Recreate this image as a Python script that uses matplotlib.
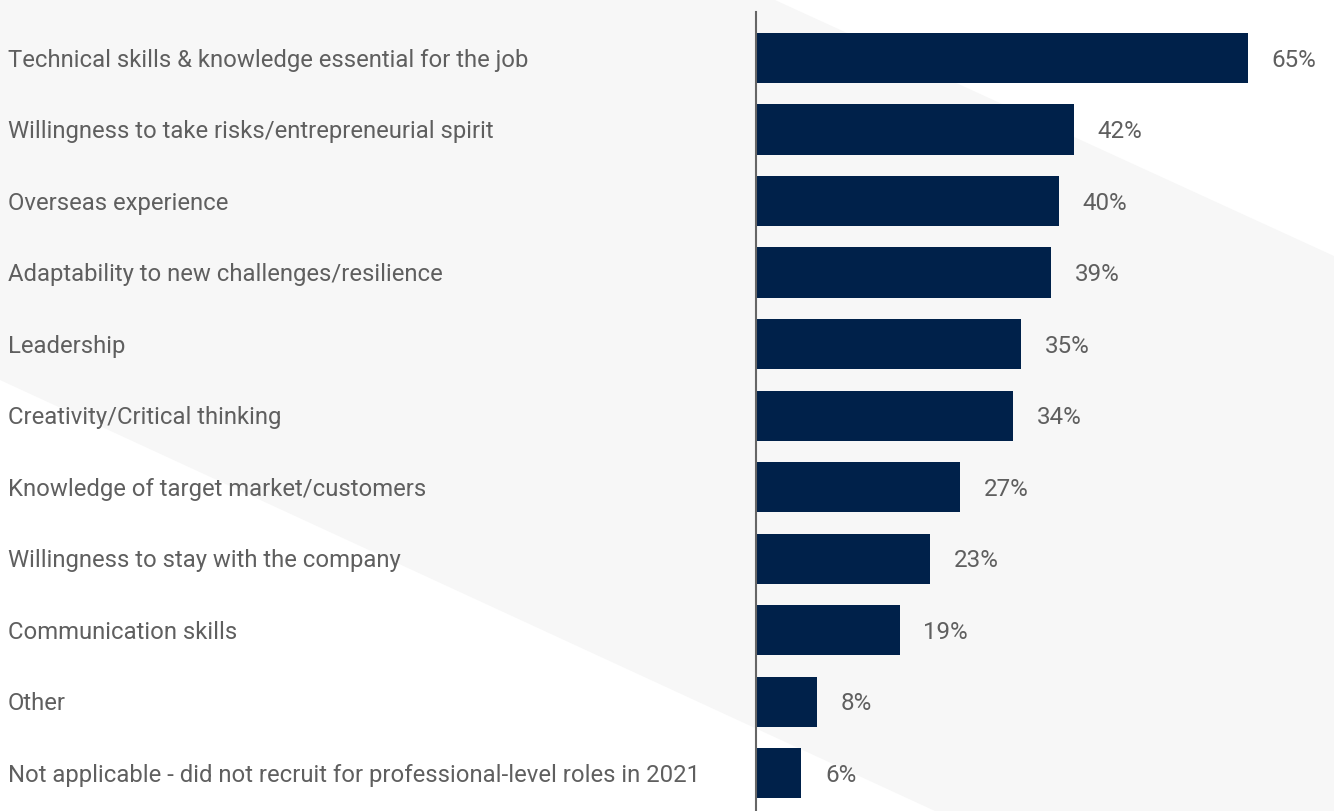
import matplotlib.pyplot as plt
from matplotlib.patches import Polygon
from matplotlib.transforms import blended_transform_factory, offset_copy

plt.rcParams['font.family'] = ['Roboto', 'DejaVu Sans']

categories = [
    "Technical skills & knowledge essential for the job",
    "Willingness to take risks/entrepreneurial spirit",
    "Overseas experience",
    "Adaptability to new challenges/resilience",
    "Leadership",
    "Creativity/Critical thinking",
    "Knowledge of target market/customers",
    "Willingness to stay with the company",
    "Communication skills",
    "Other",
    "Not applicable - did not recruit for professional-level roles in 2021",
]
values = [65, 42, 40, 39, 35, 34, 27, 23, 19, 8, 6]

BAR_COLOR = "#00214a"
TEXT_COLOR = "#5f5f5f"
W, H = 1334, 811

fig = plt.figure(figsize=(W / 100, H / 100), dpi=100)
fig.patch.set_facecolor("white")

# light grey band running diagonally behind the chart
band_px = [(0, 0), (775, 0), (1334, 256), (1334, 811), (935, 811), (0, 380)]
band = Polygon([(x / W, 1 - y / H) for x, y in band_px], closed=True,
               transform=fig.transFigure, facecolor="#f7f7f7",
               edgecolor="none", zorder=-1)
fig.patches.append(band)

ax = fig.add_axes([756 / W, 0, 1 - 756 / W, 1 - 12 / H])
ax.patch.set_alpha(0)

pos = list(range(len(categories)))
ax.barh(pos, values, height=0.7, color=BAR_COLOR, zorder=2)

ax.set_xlim(0, (W - 756) / 7.57)
ax.set_ylim(10.53, -0.643)

for i, v in zip(pos, values):
    ax.annotate(f"{v}%", (v, i), xytext=(17, -1.5), textcoords="offset points",
                va="center", ha="left", fontsize=17.4, color=TEXT_COLOR)

# category names sit at the left edge of the figure, aligned to bar rows
label_tr = offset_copy(blended_transform_factory(fig.transFigure, ax.transData),
                       fig=fig, x=0, y=-1.5, units="points")
for i, name in zip(pos, categories):
    ax.text(8 / W, i, name, transform=label_tr, va="center", ha="left",
            fontsize=17.2, color=TEXT_COLOR, clip_on=False)

for side in ["top", "right", "bottom"]:
    ax.spines[side].set_visible(False)
ax.spines["left"].set_color("#666666")
ax.spines["left"].set_linewidth(1.5)
ax.set_xticks([])
ax.set_yticks([])

fig.savefig("out.png", dpi=100)
